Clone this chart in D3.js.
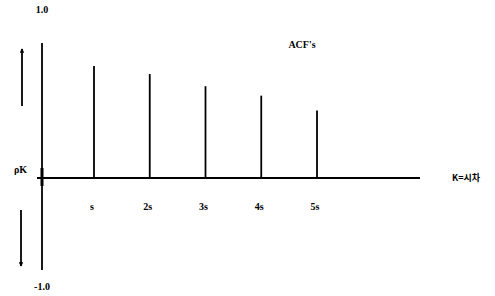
<!DOCTYPE html>
<html>
<head>
<meta charset="utf-8">
<script src="https://cdn.jsdelivr.net/npm/d3@7"></script>
<style>
  body { margin: 0; background: #fff; }
  svg { display: block; }
  text { font-family: "Liberation Serif", "DejaVu Serif", serif; font-weight: 700; fill: #000; }
</style>
</head>
<body>
<script>
// lag multiples and their autocorrelation
const lags = [1, 2, 3, 4, 5]
const lagLabels = ["s", "2s", "3s", "4s", "5s"]
const acf = [0.83, 0.77, 0.68, 0.61, 0.50]
const yTickValues = [1, -1]
const yTickLabels = ["1.0", "-1.0"]

const width = 495, height = 296

const svg = d3.select("body").append("svg")
    .attr("width", width)
    .attr("height", height)

const x = d3.scaleLinear().domain([1, 5]).range([94, 317])
// zero line sits low, the negative half is shorter than the positive one
const y = d3.scaleLinear().domain([-1, 0, 1]).range([270, 178, 43])

const axisX = 42

// vertical axis
svg.append("line")
    .attr("x1", axisX).attr("x2", axisX)
    .attr("y1", y(1)).attr("y2", y(-1))
    .attr("stroke", "#000").attr("stroke-width", 1.8)

// small tick where axes cross
svg.append("line")
    .attr("x1", axisX).attr("x2", axisX)
    .attr("y1", y(0) - 10).attr("y2", y(0) + 8)
    .attr("stroke", "#000").attr("stroke-width", 3)

// zero line
svg.append("line")
    .attr("x1", 37).attr("x2", 420)
    .attr("y1", y(0)).attr("y2", y(0))
    .attr("stroke", "#000").attr("stroke-width", 1.8)

// y labels
svg.selectAll("text.ytick")
    .data(yTickValues)
    .enter()
    .append("text")
    .attr("class", "ytick")
    .attr("x", axisX)
    .attr("y", d => d > 0 ? 13 : 290)
    .attr("text-anchor", "middle")
    .attr("font-size", 10)
    .text((d, i) => yTickLabels[i])

// spikes
svg.selectAll("line.bar")
    .data(acf)
    .enter()
    .append("line")
    .attr("class", "bar")
    .attr("x1", (d, i) => x(lags[i]))
    .attr("x2", (d, i) => x(lags[i]))
    .attr("y1", y(0))
    .attr("y2", d => y(d))
    .attr("stroke", "#000")
    .attr("stroke-width", 1.8)

// lag labels
svg.selectAll("text.lag")
    .data(lagLabels)
    .enter()
    .append("text")
    .attr("class", "lag")
    .attr("x", (d, i) => x(lags[i]) - 2)
    .attr("y", 210)
    .attr("text-anchor", "middle")
    .attr("font-size", 10)
    .text(d => d)

// title
svg.append("text")
    .attr("x", 302).attr("y", 48)
    .attr("text-anchor", "middle")
    .attr("font-size", 10)
    .text("ACF's")

// x axis name
svg.append("text")
    .attr("x", 452).attr("y", 181)
    .attr("font-size", 9)
    .style("font-family", "'Noto Sans CJK KR', sans-serif")
    .text("K=시차")

// y axis name
svg.append("text")
    .attr("x", 14).attr("y", 173)
    .attr("font-size", 10)
    .text("ρK")

// arrows on the left
const marker = svg.append("defs").append("marker")
    .attr("id", "arrow")
    .attr("viewBox", "0 -3 6 6")
    .attr("refX", 5).attr("refY", 0)
    .attr("markerWidth", 2.5).attr("markerHeight", 2.5)
    .attr("orient", "auto")
marker.append("path").attr("d", "M0,-3L6,0L0,3Z").attr("fill", "#000")

svg.append("line")
    .attr("x1", 22).attr("x2", 22)
    .attr("y1", 106).attr("y2", 49)
    .attr("stroke", "#000").attr("stroke-width", 1.8)
    .attr("marker-end", "url(#arrow)")

svg.append("line")
    .attr("x1", 21).attr("x2", 21)
    .attr("y1", 210).attr("y2", 266)
    .attr("stroke", "#000").attr("stroke-width", 1.8)
    .attr("marker-end", "url(#arrow)")
</script>
</body>
</html>
